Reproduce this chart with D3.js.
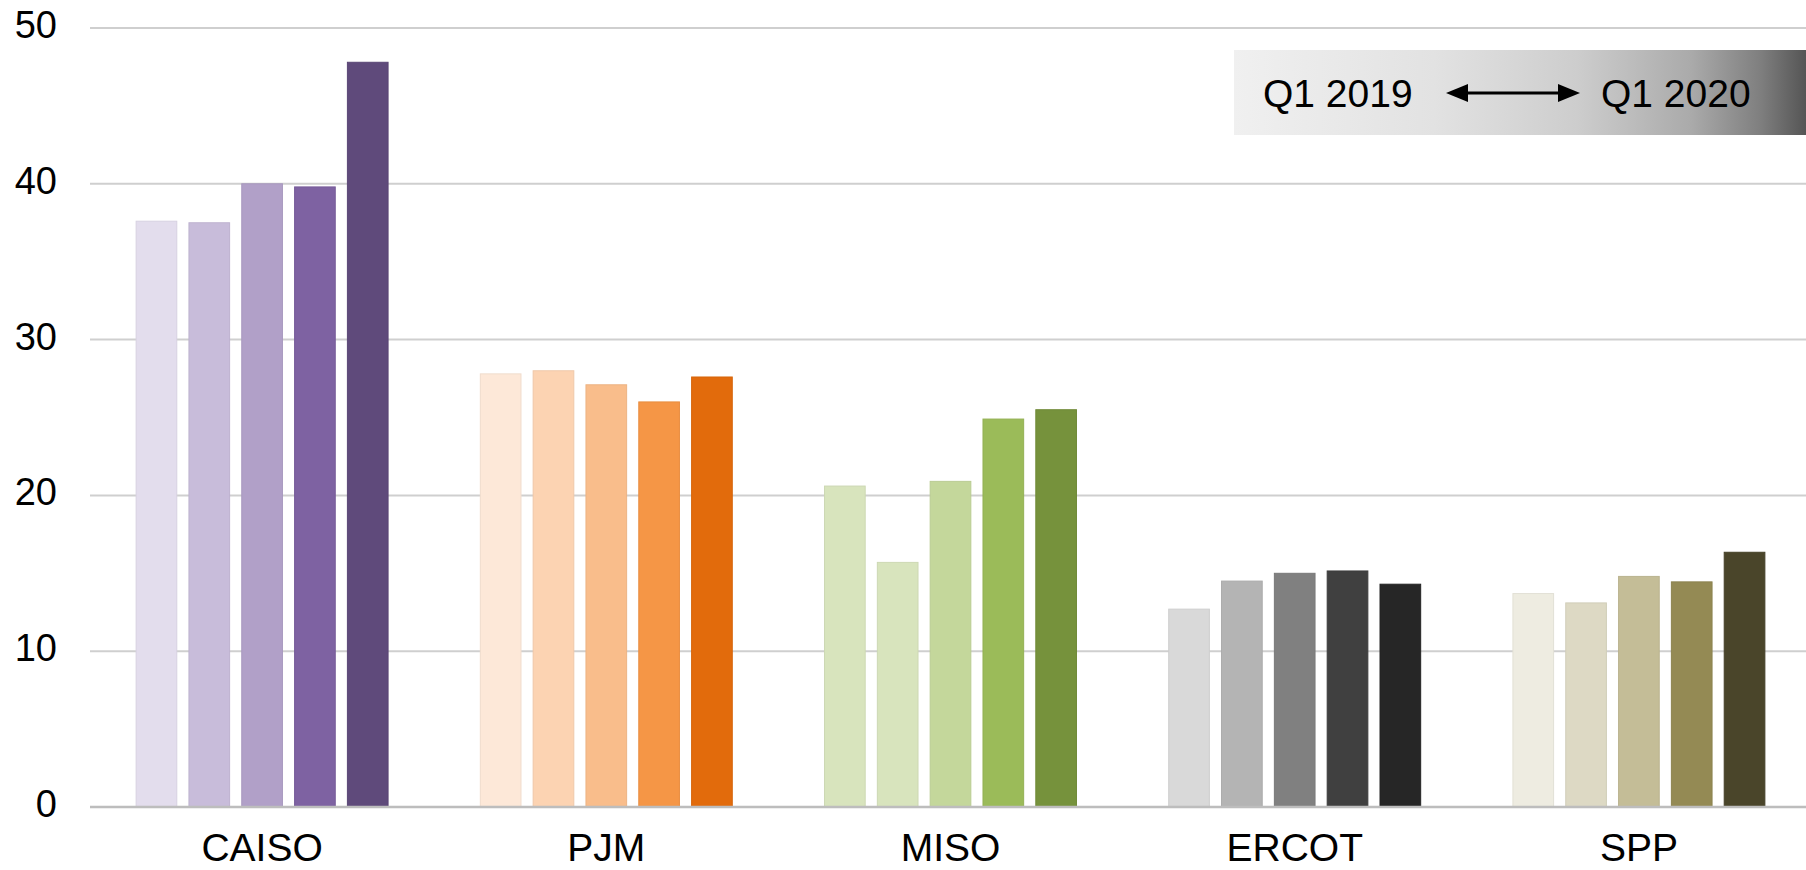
<!DOCTYPE html>
<html>
<head>
<meta charset="utf-8">
<script src="https://cdn.jsdelivr.net/npm/d3@7"></script>
<style>
  html, body { margin: 0; padding: 0; background: #ffffff; overflow: hidden; }
  svg { display: block; font-family: "Liberation Sans", Arial, sans-serif; }
</style>
</head>
<body>
<svg id="chart" width="1806" height="870"></svg>
<script>
// ---- data ----
const regions = ["CAISO", "PJM", "MISO", "ERCOT", "SPP"];
const periods = ["Q1 2019", "Q2 2019", "Q3 2019", "Q4 2019", "Q1 2020"];
const caiso = [37.6, 37.5, 40.0, 39.8, 47.8];
const pjm   = [27.8, 28.0, 27.1, 26.0, 27.6];
const miso  = [20.6, 15.7, 20.9, 24.9, 25.5];
const ercot = [12.7, 14.5, 15.0, 15.15, 14.3];
const spp   = [13.7, 13.1, 14.8, 14.45, 16.35];
const yTicks = [0, 10, 20, 30, 40, 50];
const legendStart = "Q1 2019";
const legendEnd = "Q1 2020";

// ---- styles ----
const palettes = {
  CAISO: ["#e3dded", "#c8bcda", "#b1a0c8", "#7e62a2", "#5f4a7b"],
  PJM:   ["#fde8d8", "#fcd3b2", "#f9bd8b", "#f59646", "#e26b0c"],
  MISO:  ["#d8e4bd", "#d8e4bd", "#c4d79b", "#9bbb59", "#76923c"],
  ERCOT: ["#d9d9d9", "#b4b4b4", "#808080", "#404040", "#262626"],
  SPP:   ["#eeece1", "#ddd9c4", "#c4bd97", "#948a54", "#4a452a"]
};
const seriesByRegion = { CAISO: caiso, PJM: pjm, MISO: miso, ERCOT: ercot, SPP: spp };

const rows = regions.map(r => ({
  region: r,
  bars: periods.map((p, i) => ({ period: p, value: seriesByRegion[r][i], color: palettes[r][i] }))
}));

const svg = d3.select("#chart");
const plotL = 90, plotR = 1811, plotT = 28, plotB = 807;

const x0 = d3.scaleBand().domain(regions).range([plotL, plotR])
  .paddingInner(0.268).paddingOuter(0.134);
const x1 = d3.scaleBand().domain(periods).range([0, x0.bandwidth()])
  .paddingInner(0.23).paddingOuter(0);
const y = d3.scaleLinear().domain([0, 50]).range([plotB, plotT]);

// gridlines
svg.append("g").selectAll("line")
  .data(yTicks.filter(t => t > 0))
  .join("line")
  .attr("x1", plotL).attr("x2", 1806)
  .attr("y1", d => y(d)).attr("y2", d => y(d))
  .attr("stroke", "#cfcfcf").attr("stroke-width", 2);

// y axis labels
const yAxis = d3.axisLeft(y).tickValues(yTicks).tickSize(0).tickPadding(0).tickFormat(d3.format("d"));
const yg = svg.append("g").attr("transform", `translate(57,0)`).call(yAxis);
yg.select(".domain").remove();
yg.selectAll("text")
  .attr("font-size", 38).attr("fill", "#000").attr("dy", "0.25em")
  .attr("font-family", "Liberation Sans, Arial, sans-serif");

// bars
const groups = svg.append("g").selectAll("g")
  .data(rows).join("g")
  .attr("transform", d => `translate(${x0(d.region)},0)`);
groups.selectAll("rect")
  .data(d => d.bars).join("rect")
  .attr("x", d => x1(d.period))
  .attr("width", x1.bandwidth())
  .attr("y", d => y(d.value))
  .attr("height", d => y(0) - y(d.value))
  .attr("fill", d => d.color)
  .attr("stroke", d => d3.color(d.color).darker(0.15))
  .attr("stroke-width", 1);

// baseline
svg.append("line")
  .attr("x1", plotL).attr("x2", 1806)
  .attr("y1", y(0)).attr("y2", y(0))
  .attr("stroke", "#bdbdbd").attr("stroke-width", 2.5);

// x axis labels
const xAxis = d3.axisBottom(x0).tickSize(0).tickPadding(0);
const xg = svg.append("g").attr("transform", `translate(0,${plotB})`).call(xAxis);
xg.select(".domain").remove();
xg.selectAll("text")
  .attr("font-size", 39).attr("fill", "#000")
  .attr("y", 54).attr("dy", 0)
  .attr("font-family", "Liberation Sans, Arial, sans-serif");

// legend box with gradient
const defs = svg.append("defs");
const grad = defs.append("linearGradient").attr("id", "lg").attr("x1", "0%").attr("x2", "100%");
[["0%", "#f0f0f0"], ["35%", "#e2e2e2"], ["60%", "#cdcdcd"], ["80%", "#aaaaaa"], ["92%", "#7f7f7f"], ["100%", "#555555"]]
  .forEach(([o, c]) => grad.append("stop").attr("offset", o).attr("stop-color", c));

const lg = svg.append("g");
lg.append("rect").attr("x", 1234).attr("y", 50).attr("width", 572).attr("height", 85)
  .attr("fill", "url(#lg)");
lg.append("text").attr("x", 1263).attr("y", 107).attr("font-size", 39).attr("fill", "#000")
  .text(legendStart);
lg.append("text").attr("x", 1601).attr("y", 107).attr("font-size", 39).attr("fill", "#000")
  .text(legendEnd);
// double-headed arrow
const ay = 93, ax1 = 1446, ax2 = 1580, ah = 22, aw = 9;
lg.append("line").attr("x1", ax1 + ah - 2).attr("x2", ax2 - ah + 2).attr("y1", ay).attr("y2", ay)
  .attr("stroke", "#000").attr("stroke-width", 3);
lg.append("path").attr("d", `M${ax1},${ay} L${ax1 + ah},${ay - aw} L${ax1 + ah},${ay + aw} Z`).attr("fill", "#000");
lg.append("path").attr("d", `M${ax2},${ay} L${ax2 - ah},${ay - aw} L${ax2 - ah},${ay + aw} Z`).attr("fill", "#000");
</script>
</body>
</html>
